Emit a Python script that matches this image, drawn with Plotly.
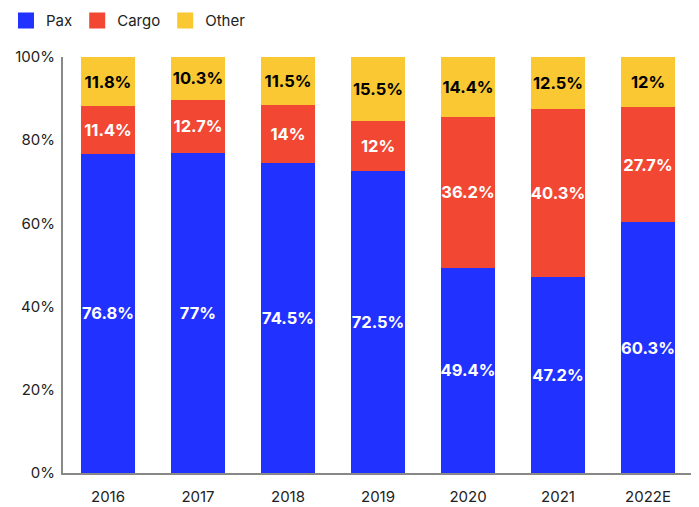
import plotly.graph_objects as go

years = ["2016", "2017", "2018", "2019", "2020", "2021", "2022E"]
pax = [76.8, 77, 74.5, 72.5, 49.4, 47.2, 60.3]
cargo = [11.4, 12.7, 14, 12, 36.2, 40.3, 27.7]
other = [11.8, 10.3, 11.5, 15.5, 14.4, 12.5, 12]
yticks = [0, 20, 40, 60, 80, 100]

series = [
    ("Pax", pax, "#2131FF", "white"),
    ("Cargo", cargo, "#F24833", "white"),
    ("Other", other, "#F9C832", "black"),
]

fig = go.Figure()
for name, vals, color, tcolor in series:
    fig.add_trace(go.Bar(
        x=years, y=vals, name=name, showlegend=False,
        marker=dict(color=color, line=dict(width=0)),
        text=[f"{v:g}%" for v in vals],
        textposition="inside", insidetextanchor="middle",
        textangle=0,
        textfont=dict(family="Inter, Arial", size=16.5, color=tcolor, weight="bold"),
        constraintext="none",
    ))
# legend entries with larger square swatches
for name, vals, color, tcolor in series:
    fig.add_trace(go.Scatter(
        x=[years[0]], y=[None], mode="markers", name=name, showlegend=True,
        marker=dict(symbol="square", size=16, color=color),
    ))

fig.update_layout(
    barmode="stack",
    bargap=0.41,
    width=691, height=499,
    margin=dict(l=55, r=6, t=49, b=34, autoexpand=False),
    paper_bgcolor="white", plot_bgcolor="white",
    font=dict(family="Inter, Arial", size=15, color="#222"),
    showlegend=True,
    legend=dict(orientation="h", xref="paper", yref="paper",
                x=-0.0905, y=1.127, xanchor="left", yanchor="top",
                font=dict(size=15, color="#222"), traceorder="normal",
                itemwidth=30, itemsizing="trace"),
    yaxis=dict(range=[0, 100], tickmode="array", tickvals=yticks,
               ticktext=[f"{v}%" for v in yticks],
               showgrid=False, showline=True, linecolor="#888", linewidth=2,
               zeroline=False, ticks="", ticklabelstandoff=3,
               tickfont=dict(size=15, color="#222"), automargin=False),
    xaxis=dict(showline=True, linecolor="#888", linewidth=2, showgrid=False,
               ticks="", ticklabelstandoff=9, automargin=False,
               tickfont=dict(size=15, color="#222")),
)

fig.write_html("out.html")
